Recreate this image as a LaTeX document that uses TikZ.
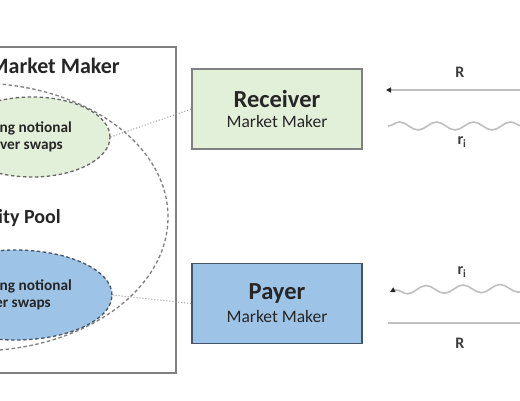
\documentclass[tikz,border=0pt]{standalone}
\usepackage{fontspec}
\setmainfont{Carlito}
\usetikzlibrary{shapes.geometric,arrows.meta,decorations.pathmorphing}
\definecolor{framegray}{HTML}{808080}
\definecolor{dashgray}{HTML}{7F7F7F}
\definecolor{lgreen}{HTML}{E2EFD9}
\definecolor{lblue}{HTML}{9DC3E6}
\definecolor{bluebord}{HTML}{44546A}
\definecolor{txt}{HTML}{262626}
\definecolor{flowgray}{HTML}{BFBFBF}
\tikzset{
  frame/.style={draw=framegray, line width=1.4pt, fill=white, inner sep=0pt},
  pool/.style={ellipse, draw=dashgray, dash pattern=on 3.5pt off 2.5pt, line width=1.3pt, inner sep=0pt},
  greenell/.style={ellipse, draw=dashgray!80!black, fill=lgreen, dash pattern=on 3.5pt off 2.5pt, line width=1.3pt, inner sep=0pt},
  blueell/.style={ellipse, draw=bluebord, fill=lblue, dash pattern=on 3.5pt off 2.5pt, line width=1.3pt, inner sep=0pt},
  mmbox/.style={draw=framegray, line width=1.4pt, minimum width=170pt, minimum height=80pt, align=center, inner sep=0pt, text=txt},
  elltxt/.style={anchor=east, text=txt, font=\fontsize{15.3}{18}\selectfont\bfseries, inner sep=0pt},
  bigtxt/.style={text=txt, font=\fontsize{22}{26}\selectfont\bfseries, inner sep=0pt},
  link/.style={draw=flowgray!80!black, dotted, line width=1pt},
  flow/.style={draw=flowgray, line width=1.6pt},
  wave/.style={flow, decorate, decoration={snake, amplitude=4pt, segment length=37pt}},
  lbl/.style={text=txt!90, font=\fontsize{16}{18}\selectfont\bfseries, inner sep=0pt},
  tip/.style={-{Triangle[length=5pt,width=5pt,color=black!85,fill=black!85]}}
}
\begin{document}
\begin{tikzpicture}[x=1pt,y=-1pt]
\clip (0,0) rectangle (520,400);
\fill[white] (0,0) rectangle (520,400);
% frame
\node[frame, minimum width=196pt, minimum height=326pt] (frm) at (78,210) {};
\node[bigtxt, anchor=east] (title) at (120,66) {Market Maker};
% ellipses
\node[pool, minimum width=384pt, minimum height=268pt] (pl) at (-24,217) {};
\node[greenell, minimum width=156pt, minimum height=80pt] (gell) at (32,137) {};
\node[blueell, minimum width=194pt, minimum height=90pt] (bell) at (15,295) {};
\node[elltxt] (g1) at (72,128) {ng notional};
\node[elltxt] (g2) at (63,147) {ver swaps};
\node[bigtxt, anchor=east, font=\fontsize{20}{24}\selectfont\bfseries] (plt) at (61,218) {ity Pool};
\node[elltxt] (b1) at (72,286) {ng notional};
\node[elltxt] (b2) at (51,305) {er swaps};
% boxes
\node[mmbox, fill=lgreen] (recv) at (277,109) {\raisebox{-2pt}{\fontsize{24.5}{27}\selectfont\bfseries Receiver}\\[6pt]{\fontsize{17.5}{20}\selectfont Market Maker}};
\node[mmbox, fill=lblue, draw=bluebord] (payer) at (277,303.5) {\raisebox{-2pt}{\fontsize{24.5}{27}\selectfont\bfseries Payer}\\[6pt]{\fontsize{17.5}{20}\selectfont Market Maker}};
% links
\draw[link] (gell.east) -- (recv.west);
\draw[link] (bell.east) -- (payer.west);
% flows upper
\coordinate (u1s) at (530,90);
\coordinate (u1e) at (386,90);
\coordinate (u2s) at (388,126);
\coordinate (u2e) at (530,126);
\draw[flow, tip] (u1s) -- (u1e);
\draw[wave] (u2s) -- (u2e);
\node[lbl] (uR) at (460,72) {R};
\node[lbl] (ur) at (462,142) {r\textsubscript{i}};
% flows lower
\coordinate (l1s) at (530,288);
\coordinate (l1e) at (394,290);
\coordinate (l1t) at (390,292);
\coordinate (l2s) at (388,323);
\coordinate (l2e) at (530,323);
\draw[wave] (l1s) -- (l1e);
\draw[flow, tip, shorten >=0pt] (l1e) -- (l1t);
\draw[flow] (l2s) -- (l2e);
\node[lbl] (lr) at (462,272) {r\textsubscript{i}};
\node[lbl] (lR) at (460,343) {R};
\end{tikzpicture}
\end{document}
